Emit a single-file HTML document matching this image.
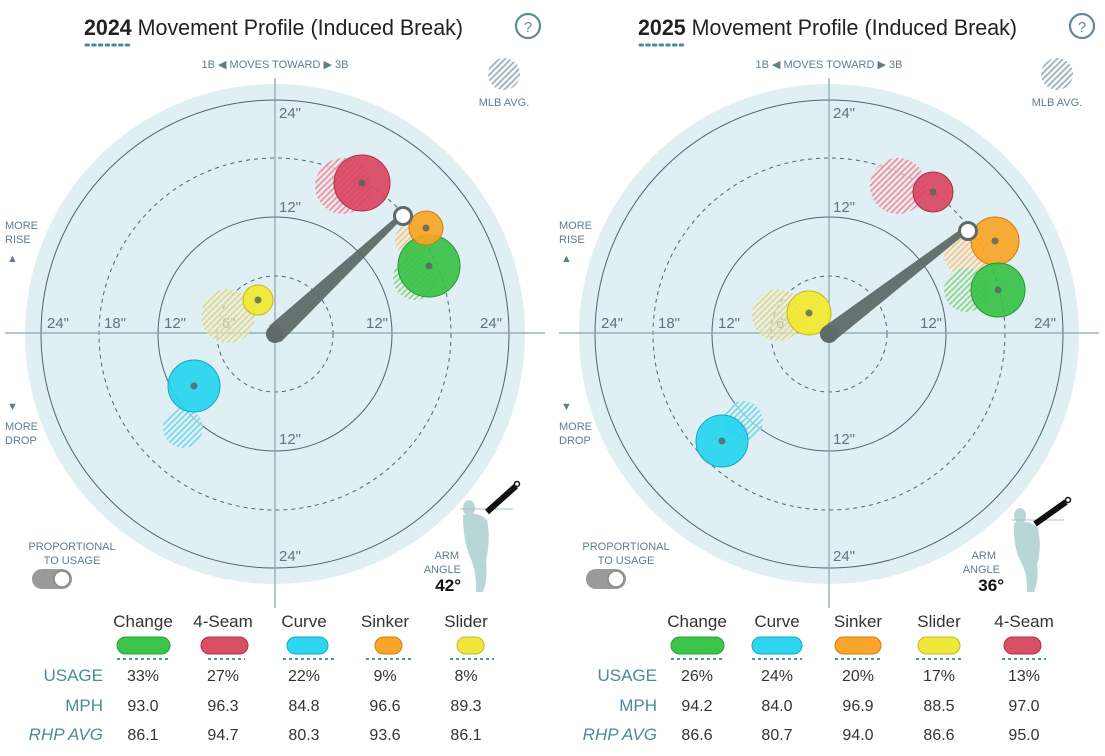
<!DOCTYPE html>
<html><head><meta charset="utf-8"><style>
html,body{margin:0;padding:0;background:#fff;}
svg{display:block;font-family:"Liberation Sans",sans-serif;}
.lab{fill:#5f7380;font-size:15px;}
.sm{fill:#5f7d8c;font-size:11px;}
.hd{fill:#333;font-size:17px;text-anchor:middle;}
.val{fill:#333;font-size:16px;text-anchor:middle;}
.rl{fill:#4a8a9a;font-size:17px;text-anchor:end;}
</style></head><body>
<svg width="1105" height="756" viewBox="0 0 1105 756" xmlns="http://www.w3.org/2000/svg">
<defs>
<pattern id="hg" patternUnits="userSpaceOnUse" width="6" height="6"><rect width="6" height="6" fill="#eef2f3" fill-opacity="0.5"/><path d="M0,6 L6,0 M-1,1 L1,-1 M5,7 L7,5" stroke="#9ab0ba" stroke-width="1.6"/></pattern>
<pattern id="hr" patternUnits="userSpaceOnUse" width="6" height="6"><rect width="6" height="6" fill="#f3e3e6" fill-opacity="0.6"/><path d="M0,6 L6,0 M-1,1 L1,-1 M5,7 L7,5" stroke="#e7909e" stroke-width="1.6"/></pattern>
<pattern id="ho" patternUnits="userSpaceOnUse" width="6" height="6"><rect width="6" height="6" fill="#f3ecdf" fill-opacity="0.6"/><path d="M0,6 L6,0 M-1,1 L1,-1 M5,7 L7,5" stroke="#f2c58a" stroke-width="1.6"/></pattern>
<pattern id="hn" patternUnits="userSpaceOnUse" width="6" height="6"><rect width="6" height="6" fill="#e3f0e3" fill-opacity="0.6"/><path d="M0,6 L6,0 M-1,1 L1,-1 M5,7 L7,5" stroke="#86d292" stroke-width="1.6"/></pattern>
<pattern id="hy" patternUnits="userSpaceOnUse" width="6" height="6"><rect width="6" height="6" fill="#eeeedd" fill-opacity="0.6"/><path d="M0,6 L6,0 M-1,1 L1,-1 M5,7 L7,5" stroke="#d9d68e" stroke-width="1.6"/></pattern>
<pattern id="hc" patternUnits="userSpaceOnUse" width="6" height="6"><rect width="6" height="6" fill="#e0f2f6" fill-opacity="0.6"/><path d="M0,6 L6,0 M-1,1 L1,-1 M5,7 L7,5" stroke="#70d8ea" stroke-width="1.6"/></pattern>
</defs>

<!-- ============ LEFT ============ -->
<g>
<text x="84" y="35" font-size="22" fill="#222" textLength="379" lengthAdjust="spacingAndGlyphs"><tspan font-weight="bold">2024</tspan> Movement Profile (Induced Break)</text>
<line x1="86" y1="45" x2="132" y2="45" stroke="#4a8a9a" stroke-width="3" stroke-dasharray="2.5 4.2" stroke-linecap="round"/>
<circle cx="528" cy="26" r="12" fill="none" stroke="#5f8a96" stroke-width="2.2"/><text x="528" y="32" font-size="15" fill="#5f8a96" text-anchor="middle">?</text>
<text x="275" y="68" class="sm" text-anchor="middle">1B ◀  MOVES TOWARD  ▶ 3B</text>
<circle cx="504" cy="74" r="16" fill="url(#hg)"/>
<text x="504" y="106" class="sm" text-anchor="middle">MLB AVG.</text>
<text x="5" y="229" class="sm">MORE</text><text x="5" y="243" class="sm">RISE</text>
<text x="7" y="262" class="sm" font-size="12">▲</text>
<text x="7" y="410" class="sm" font-size="12">▼</text>
<text x="5" y="430" class="sm">MORE</text><text x="5" y="444" class="sm">DROP</text>

<circle cx="275" cy="334" r="250" fill="#e0eff3"/>
<circle cx="275" cy="334" r="234" fill="none" stroke="#4d6478" stroke-width="1"/>
<circle cx="275" cy="334" r="117" fill="none" stroke="#4d6478" stroke-width="1"/>
<circle cx="275" cy="334" r="176" fill="none" stroke="#4d6478" stroke-width="1" stroke-dasharray="4 4"/>
<circle cx="275" cy="334" r="58" fill="none" stroke="#4d6478" stroke-width="1" stroke-dasharray="4 4"/>
<line x1="5" y1="333" x2="545" y2="333" stroke="#8aa3b0" stroke-width="1.2"/>
<line x1="275" y1="78" x2="275" y2="608" stroke="#8aa3b0" stroke-width="1.2"/>
<g class="lab">
<text x="279" y="118">24"</text><text x="279" y="212">12"</text><text x="279" y="444">12"</text><text x="279" y="561">24"</text>
<text x="47" y="328">24"</text><text x="104" y="328">18"</text><text x="164" y="328">12"</text><text x="222" y="328">6"</text><text x="366" y="328">12"</text><text x="480" y="328">24"</text>
</g>
<circle cx="343" cy="186" r="28" fill="url(#hr)"/>
<circle cx="412" cy="240" r="17" fill="url(#ho)"/>
<circle cx="415" cy="278" r="22" fill="url(#hn)"/>
<circle cx="228" cy="316" r="27" fill="url(#hy)"/>
<circle cx="183" cy="428" r="20" fill="url(#hc)"/>
<g stroke-width="1" fill-opacity="0.9">
<circle cx="362" cy="183" r="28" fill="#d9435e" stroke="#b03048"/>
<circle cx="429" cy="266" r="31" fill="#36c144" stroke="#26993a"/>
<circle cx="426" cy="228" r="17" fill="#f9a322" stroke="#d07e10"/>
<circle cx="258" cy="300" r="15" fill="#f2e82a" stroke="#c4b820"/>
<circle cx="194" cy="386" r="26" fill="#22d4ef" stroke="#18a8c0"/>
</g>
<g fill="#55635e" fill-opacity="0.8"><circle cx="362" cy="183" r="3.5"/><circle cx="429" cy="266" r="3.5"/><circle cx="426" cy="228" r="3.5"/><circle cx="258" cy="300" r="3.5"/><circle cx="194" cy="386" r="3.5"/></g>
<polygon points="269,326 281,342 400,221 396,217" fill="#5f6a69" fill-opacity="0.95"/>
<circle cx="275" cy="334" r="9" fill="#5f6a69"/>
<circle cx="403" cy="216" r="8.5" fill="#fff" stroke="#5f6a69" stroke-width="3"/>
<g fill="#b9d6d6">
<ellipse cx="469" cy="508" rx="6" ry="8"/>
<path d="M463,515 Q478,511 487,520 Q491,540 486,560 Q488,580 483,592 L476,592 Q477,572 470,557 Q463,540 463,515Z"/>
</g>
<line x1="460" y1="509" x2="513" y2="509" stroke="#a8c4cc" stroke-width="1"/>
<line x1="487" y1="512" x2="516" y2="486" stroke="#111" stroke-width="6"/>
<circle cx="517" cy="484" r="2.5" fill="#fff" stroke="#111" stroke-width="1.5"/>
<text x="459" y="559" class="sm" text-anchor="end">ARM</text><text x="461" y="573" class="sm" text-anchor="end">ANGLE</text>
<text x="461" y="591" font-size="17" font-weight="bold" fill="#111" text-anchor="end">42°</text>
<text x="72" y="550" class="sm" text-anchor="middle">PROPORTIONAL</text><text x="72" y="564" class="sm" text-anchor="middle">TO USAGE</text>
<rect x="32" y="569" width="40" height="20" rx="10" fill="#9a9a9a"/><circle cx="62" cy="579" r="8" fill="#fff" stroke="#888" stroke-width="1.5"/>
<g>
<text x="143" y="627" class="hd">Change</text><text x="223" y="627" class="hd">4-Seam</text><text x="304" y="627" class="hd">Curve</text><text x="385" y="627" class="hd">Sinker</text><text x="466" y="627" class="hd">Slider</text>
<rect x="117" y="637" width="53" height="17" rx="8.5" fill="#3cc34a" stroke="#2aa03a"/>
<rect x="201" y="637" width="47" height="17" rx="8.5" fill="#d94f66" stroke="#b03048"/>
<rect x="287" y="637" width="41" height="17" rx="8.5" fill="#2dd5ee" stroke="#18a8c0"/>
<rect x="375" y="637" width="27" height="17" rx="8.5" fill="#f9a52b" stroke="#d07e10"/>
<rect x="457" y="637" width="27" height="17" rx="8.5" fill="#efe73a" stroke="#c4b820"/>
<g stroke="#4a9aaa" stroke-width="2" stroke-dasharray="3 3">
<line x1="117" y1="659" x2="170" y2="659"/><line x1="208" y1="659" x2="245" y2="659"/><line x1="283" y1="659" x2="334" y2="659"/><line x1="366" y1="659" x2="412" y2="659"/><line x1="450" y1="659" x2="494" y2="659"/></g>
<text x="103" y="681" class="rl">USAGE</text><text x="103" y="711" class="rl">MPH</text><text x="103" y="740" class="rl" font-style="italic" font-size="14">RHP AVG</text>
<text x="143" y="681" class="val">33%</text><text x="223" y="681" class="val">27%</text><text x="304" y="681" class="val">22%</text><text x="385" y="681" class="val">9%</text><text x="466" y="681" class="val">8%</text>
<text x="143" y="711" class="val">93.0</text><text x="223" y="711" class="val">96.3</text><text x="304" y="711" class="val">84.8</text><text x="385" y="711" class="val">96.6</text><text x="466" y="711" class="val">89.3</text>
<text x="143" y="740" class="val">86.1</text><text x="223" y="740" class="val">94.7</text><text x="304" y="740" class="val">80.3</text><text x="385" y="740" class="val">93.6</text><text x="466" y="740" class="val">86.1</text>
</g>
</g>

<!-- ============ RIGHT ============ -->
<g>
<text x="638" y="35" font-size="22" fill="#222" textLength="379" lengthAdjust="spacingAndGlyphs"><tspan font-weight="bold">2025</tspan> Movement Profile (Induced Break)</text>
<line x1="640" y1="45" x2="686" y2="45" stroke="#4a8a9a" stroke-width="3" stroke-dasharray="2.5 4.2" stroke-linecap="round"/>
<circle cx="1082" cy="26" r="12" fill="none" stroke="#5f8a96" stroke-width="2.2"/><text x="1082" y="32" font-size="15" fill="#5f8a96" text-anchor="middle">?</text>
<text x="829" y="68" class="sm" text-anchor="middle">1B ◀  MOVES TOWARD  ▶ 3B</text>
<circle cx="1057" cy="74" r="16" fill="url(#hg)"/>
<text x="1057" y="106" class="sm" text-anchor="middle">MLB AVG.</text>
<text x="559" y="229" class="sm">MORE</text><text x="559" y="243" class="sm">RISE</text>
<text x="561" y="262" class="sm" font-size="12">▲</text>
<text x="561" y="410" class="sm" font-size="12">▼</text>
<text x="559" y="430" class="sm">MORE</text><text x="559" y="444" class="sm">DROP</text>

<circle cx="829" cy="334" r="250" fill="#e0eff3"/>
<circle cx="829" cy="334" r="234" fill="none" stroke="#4d6478" stroke-width="1"/>
<circle cx="829" cy="334" r="117" fill="none" stroke="#4d6478" stroke-width="1"/>
<circle cx="829" cy="334" r="176" fill="none" stroke="#4d6478" stroke-width="1" stroke-dasharray="4 4"/>
<circle cx="829" cy="334" r="58" fill="none" stroke="#4d6478" stroke-width="1" stroke-dasharray="4 4"/>
<line x1="559" y1="333" x2="1099" y2="333" stroke="#8aa3b0" stroke-width="1.2"/>
<line x1="829" y1="78" x2="829" y2="608" stroke="#8aa3b0" stroke-width="1.2"/>
<g class="lab">
<text x="833" y="118">24"</text><text x="833" y="212">12"</text><text x="833" y="444">12"</text><text x="833" y="561">24"</text>
<text x="601" y="328">24"</text><text x="658" y="328">18"</text><text x="718" y="328">12"</text><text x="776" y="328">6"</text><text x="920" y="328">12"</text><text x="1034" y="328">24"</text>
</g>
<circle cx="898" cy="186" r="28" fill="url(#hr)"/>
<circle cx="966" cy="254" r="22" fill="url(#ho)"/>
<circle cx="966" cy="290" r="22" fill="url(#hn)"/>
<circle cx="778" cy="315" r="26" fill="url(#hy)"/>
<circle cx="743" cy="421" r="20" fill="url(#hc)"/>
<g stroke-width="1" fill-opacity="0.9">
<circle cx="933" cy="192" r="20" fill="#d9435e" stroke="#b03048"/>
<circle cx="995" cy="241" r="24" fill="#f9a322" stroke="#d07e10"/>
<circle cx="998" cy="290" r="27" fill="#36c144" stroke="#26993a"/>
<circle cx="809" cy="313" r="22" fill="#f2e82a" stroke="#c4b820"/>
<circle cx="722" cy="441" r="26" fill="#22d4ef" stroke="#18a8c0"/>
</g>
<g fill="#55635e" fill-opacity="0.8"><circle cx="933" cy="192" r="3.5"/><circle cx="998" cy="290" r="3.5"/><circle cx="995" cy="241" r="3.5"/><circle cx="809" cy="313" r="3.5"/><circle cx="722" cy="441" r="3.5"/></g>
<polygon points="825,326 833,342 964,235 961,229" fill="#5f6a69" fill-opacity="0.95"/>
<circle cx="829" cy="334" r="9" fill="#5f6a69"/>
<circle cx="968" cy="231" r="8.5" fill="#fff" stroke="#5f6a69" stroke-width="3"/>
<g fill="#b9d6d6">
<ellipse cx="1020" cy="516" rx="6" ry="8"/>
<path d="M1014,523 Q1029,519 1038,528 Q1042,548 1037,565 Q1039,580 1034,592 L1027,592 Q1028,575 1021,562 Q1013,548 1014,523Z"/>
</g>
<line x1="1012" y1="520" x2="1064" y2="520" stroke="#a8c4cc" stroke-width="1"/>
<line x1="1035" y1="524" x2="1066" y2="502" stroke="#111" stroke-width="6"/>
<circle cx="1068" cy="500" r="2.5" fill="#fff" stroke="#111" stroke-width="1.5"/>
<text x="996" y="559" class="sm" text-anchor="end">ARM</text><text x="1000" y="573" class="sm" text-anchor="end">ANGLE</text>
<text x="1004" y="591" font-size="17" font-weight="bold" fill="#111" text-anchor="end">36°</text>
<text x="626" y="550" class="sm" text-anchor="middle">PROPORTIONAL</text><text x="626" y="564" class="sm" text-anchor="middle">TO USAGE</text>
<rect x="586" y="569" width="40" height="20" rx="10" fill="#9a9a9a"/><circle cx="616" cy="579" r="8" fill="#fff" stroke="#888" stroke-width="1.5"/>
<g>
<text x="697" y="627" class="hd">Change</text><text x="777" y="627" class="hd">Curve</text><text x="858" y="627" class="hd">Sinker</text><text x="939" y="627" class="hd">Slider</text><text x="1024" y="627" class="hd">4-Seam</text>
<rect x="671" y="637" width="53" height="17" rx="8.5" fill="#3cc34a" stroke="#2aa03a"/>
<rect x="752" y="637" width="50" height="17" rx="8.5" fill="#2dd5ee" stroke="#18a8c0"/>
<rect x="835" y="637" width="46" height="17" rx="8.5" fill="#f9a52b" stroke="#d07e10"/>
<rect x="918" y="637" width="42" height="17" rx="8.5" fill="#efe73a" stroke="#c4b820"/>
<rect x="1004" y="637" width="37" height="17" rx="8.5" fill="#d94f66" stroke="#b03048"/>
<g stroke="#4a9aaa" stroke-width="2" stroke-dasharray="3 3">
<line x1="671" y1="659" x2="724" y2="659"/><line x1="752" y1="659" x2="802" y2="659"/><line x1="835" y1="659" x2="881" y2="659"/><line x1="916" y1="659" x2="962" y2="659"/><line x1="1002" y1="659" x2="1046" y2="659"/></g>
<text x="657" y="681" class="rl">USAGE</text><text x="657" y="711" class="rl">MPH</text><text x="657" y="740" class="rl" font-style="italic" font-size="14">RHP AVG</text>
<text x="697" y="681" class="val">26%</text><text x="777" y="681" class="val">24%</text><text x="858" y="681" class="val">20%</text><text x="939" y="681" class="val">17%</text><text x="1024" y="681" class="val">13%</text>
<text x="697" y="711" class="val">94.2</text><text x="777" y="711" class="val">84.0</text><text x="858" y="711" class="val">96.9</text><text x="939" y="711" class="val">88.5</text><text x="1024" y="711" class="val">97.0</text>
<text x="697" y="740" class="val">86.6</text><text x="777" y="740" class="val">80.7</text><text x="858" y="740" class="val">94.0</text><text x="939" y="740" class="val">86.6</text><text x="1024" y="740" class="val">95.0</text>
</g>
</g>
</svg>
</body></html>
